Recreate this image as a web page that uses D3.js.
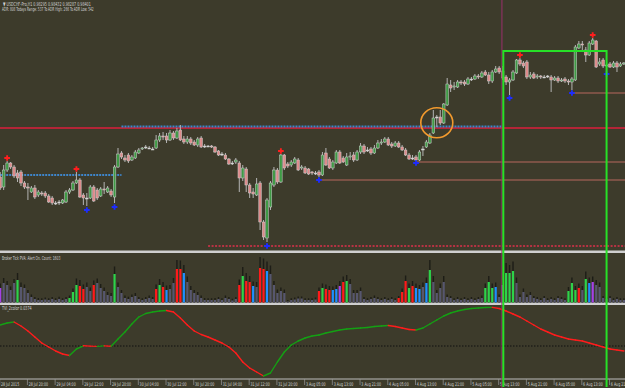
<!DOCTYPE html>
<html lang="en">
<head>
  <meta charset="UTF-8">
  <title>USDCHF-Pro,H1</title>
  <style type="text/css" media="all">
    body { margin: 0; background: #3d3b2b; overflow: hidden; }
    svg { display: block; }
    text { font-family: "DejaVu Sans", sans-serif; fill: #d2d2d2; }
  </style>
</head>
<body>
  <div id="chart"></div>
  <script src="https://d3js.org/d3.v7.min.js" charset="utf-8"></script>
  <script>
    // H1 bars from 28 Jul 2015 12:00 to 6 Aug 2015
    var opens = [
      0.9723,0.9713,0.9730,0.9737,0.9733,0.9727,0.9728,0.9717,0.9713,0.9708,
      0.9712,0.9705,0.9707,0.9707,0.9704,0.9702,0.9697,0.9698,0.9697,0.9698,
      0.9708,0.9710,0.9717,0.9720,0.9705,0.9702,0.9702,0.9713,0.9710,0.9704,
      0.9711,0.9708,0.9709,0.9703,0.9733,0.9747,0.9742,0.9745,0.9740,0.9742,
      0.9747,0.9751,0.9753,0.9752,0.9751,0.9752,0.9760,0.9764,0.9764,0.9760,
      0.9767,0.9762,0.9770,0.9761,0.9758,0.9761,0.9758,0.9755,0.9762,0.9754,
      0.9754,0.9754,0.9753,0.9749,0.9746,0.9745,0.9741,0.9737,0.9738,0.9737,
      0.9722,0.9731,0.9715,0.9708,0.9705,0.9717,0.9678,0.9662,0.9693,0.9715,
      0.9730,0.9718,0.9745,0.9736,0.9735,0.9737,0.9740,0.9732,0.9732,0.9731,
      0.9728,0.9727,0.9728,0.9725,0.9747,0.9741,0.9732,0.9737,0.9748,0.9742,
      0.9735,0.9743,0.9745,0.9740,0.9748,0.9754,0.9750,0.9751,0.9747,0.9752,
      0.9757,0.9758,0.9761,0.9756,0.9754,0.9757,0.9753,0.9750,0.9745,0.9742,
      0.9743,0.9740,0.9751,0.9753,0.9757,0.9767,0.9783,0.9783,0.9777,0.9795,
      0.9815,0.9813,0.9813,0.9818,0.9818,0.9816,0.9821,0.9821,0.9824,0.9823,
      0.9828,0.9825,0.9819,0.9828,0.9832,0.9829,0.9823,0.9818,0.9820,0.9827,
      0.9840,0.9837,0.9838,0.9823,0.9826,0.9823,0.9824,0.9823,0.9824,0.9823,
      0.9820,0.9822,0.9819,0.9821,0.9819,0.9818,0.9820,0.9852,0.9856,0.9850,
      0.9845,0.9856,0.9859,0.9836,0.9840,0.9834,0.9836,0.9833,0.9837,0.9834,0.9836
    ];
    var highs = [
      0.9728,0.9735,0.9739,0.9738,0.9735,0.9730,0.9730,0.9719,0.9717,0.9714,
      0.9715,0.9710,0.9709,0.9709,0.9706,0.9704,0.9699,0.9700,0.9701,0.9710,
      0.9712,0.9719,0.9728,0.9722,0.9707,0.9707,0.9715,0.9715,0.9712,0.9713,
      0.9718,0.9714,0.9711,0.9735,0.9752,0.9749,0.9745,0.9747,0.9745,0.9750,
      0.9752,0.9753,0.9755,0.9754,0.9753,0.9765,0.9767,0.9768,0.9767,0.9770,
      0.9769,0.9772,0.9775,0.9764,0.9764,0.9763,0.9760,0.9763,0.9764,0.9756,
      0.9755,0.9755,0.9754,0.9750,0.9748,0.9747,0.9742,0.9739,0.9742,0.9739,
      0.9735,0.9733,0.9717,0.9712,0.9722,0.9719,0.9680,0.9702,0.9719,0.9733,
      0.9732,0.9746,0.9746,0.9738,0.9740,0.9743,0.9742,0.9735,0.9734,0.9732,
      0.9729,0.9729,0.9730,0.9748,0.9752,0.9743,0.9740,0.9750,0.9750,0.9744,
      0.9747,0.9748,0.9748,0.9750,0.9757,0.9756,0.9753,0.9753,0.9755,0.9760,
      0.9761,0.9763,0.9763,0.9758,0.9759,0.9759,0.9755,0.9752,0.9747,0.9745,
      0.9745,0.9750,0.9754,0.9760,0.9767,0.9790,0.9785,0.9790,0.9797,0.9822,
      0.9820,0.9818,0.9820,0.9820,0.9820,0.9823,0.9823,0.9826,0.9826,0.9829,
      0.9830,0.9828,0.9830,0.9834,0.9834,0.9834,0.9825,0.9822,0.9830,0.9841,
      0.9842,0.9839,0.9840,0.9828,0.9828,0.9826,0.9825,0.9825,0.9825,0.9825,
      0.9824,0.9824,0.9822,0.9823,0.9821,0.9823,0.9855,0.9859,0.9859,0.9853,
      0.9859,0.9862,0.9860,0.9842,0.9842,0.9838,0.9838,0.9839,0.9839,0.9838,0.9838
    ];
    var lows = [
      0.9710,0.9710,0.9728,0.9731,0.9722,0.9718,0.9714,0.9711,0.9700,0.9707,
      0.9701,0.9703,0.9704,0.9702,0.9697,0.9695,0.9695,0.9695,0.9696,0.9697,
      0.9706,0.9709,0.9716,0.9702,0.9695,0.9694,0.9701,0.9698,0.9700,0.9703,
      0.9706,0.9707,0.9703,0.9697,0.9732,0.9741,0.9738,0.9737,0.9739,0.9741,
      0.9746,0.9750,0.9751,0.9751,0.9750,0.9751,0.9758,0.9760,0.9757,0.9759,
      0.9760,0.9761,0.9759,0.9756,0.9756,0.9755,0.9754,0.9753,0.9752,0.9752,
      0.9753,0.9752,0.9747,0.9744,0.9744,0.9740,0.9735,0.9735,0.9736,0.9708,
      0.9719,0.9708,0.9702,0.9702,0.9704,0.9670,0.9660,0.9658,0.9690,0.9713,
      0.9716,0.9717,0.9730,0.9732,0.9733,0.9736,0.9729,0.9730,0.9726,0.9725,
      0.9725,0.9725,0.9723,0.9724,0.9734,0.9731,0.9730,0.9736,0.9736,0.9737,
      0.9734,0.9740,0.9738,0.9739,0.9746,0.9746,0.9748,0.9745,0.9746,0.9751,
      0.9755,0.9757,0.9754,0.9752,0.9753,0.9752,0.9749,0.9744,0.9740,0.9740,
      0.9739,0.9739,0.9744,0.9752,0.9756,0.9766,0.9773,0.9775,0.9776,0.9794,
      0.9808,0.9810,0.9812,0.9815,0.9814,0.9815,0.9819,0.9820,0.9821,0.9822,
      0.9824,0.9816,0.9817,0.9827,0.9826,0.9820,0.9815,0.9805,0.9819,0.9826,
      0.9834,0.9832,0.9821,0.9821,0.9821,0.9821,0.9821,0.9822,0.9822,0.9808,
      0.9819,0.9817,0.9818,0.9817,0.9815,0.9810,0.9819,0.9851,0.9850,0.9838,
      0.9844,0.9855,0.9832,0.9834,0.9832,0.9829,0.9832,0.9832,0.9828,0.9833,0.9835
    ];
    var closes = [
      0.9712,0.9730,0.9737,0.9733,0.9724,0.9722,0.9717,0.9713,0.9712,0.9712,
      0.9703,0.9708,0.9706,0.9704,0.9698,0.9697,0.9697,0.9698,0.9700,0.9708,
      0.9710,0.9717,0.9720,0.9703,0.9702,0.9702,0.9713,0.9699,0.9702,0.9711,
      0.9710,0.9712,0.9705,0.9733,0.9746,0.9743,0.9740,0.9739,0.9743,0.9748,
      0.9750,0.9752,0.9753,0.9752,0.9751,0.9760,0.9764,0.9763,0.9760,0.9767,
      0.9762,0.9769,0.9760,0.9758,0.9761,0.9757,0.9755,0.9761,0.9753,0.9754,
      0.9754,0.9753,0.9748,0.9745,0.9746,0.9741,0.9736,0.9737,0.9740,0.9722,
      0.9732,0.9715,0.9707,0.9706,0.9716,0.9678,0.9663,0.9700,0.9717,0.9730,
      0.9718,0.9745,0.9732,0.9734,0.9738,0.9741,0.9730,0.9733,0.9727,0.9726,
      0.9727,0.9727,0.9725,0.9745,0.9735,0.9732,0.9738,0.9748,0.9737,0.9738,
      0.9743,0.9744,0.9740,0.9748,0.9754,0.9748,0.9750,0.9747,0.9752,0.9757,
      0.9758,0.9761,0.9755,0.9754,0.9757,0.9753,0.9750,0.9745,0.9741,0.9742,
      0.9740,0.9748,0.9751,0.9758,0.9765,0.9782,0.9783,0.9777,0.9796,0.9816,
      0.9812,0.9814,0.9818,0.9817,0.9816,0.9821,0.9821,0.9824,0.9823,0.9827,
      0.9825,0.9819,0.9828,0.9831,0.9828,0.9822,0.9818,0.9820,0.9828,0.9840,
      0.9836,0.9834,0.9823,0.9825,0.9822,0.9824,0.9823,0.9823,0.9824,0.9820,
      0.9822,0.9819,0.9820,0.9819,0.9818,0.9821,0.9853,0.9856,0.9855,0.9845,
      0.9857,0.9860,0.9833,0.9838,0.9834,0.9835,0.9833,0.9837,0.9833,0.9836,0.9837
    ];

    // Broker Tick PVA histogram (colored part and dark upper part)
    var tickVolume = [
      580,780,700,500,780,900,620,580,380,220,
      140,100,100,120,100,140,100,140,100,140,
      180,420,700,660,540,620,460,700,780,580,
      460,300,260,1140,620,380,180,140,220,260,
      140,100,140,180,140,540,700,620,500,540,
      780,1340,1340,1180,820,500,380,300,180,100,
      100,100,100,140,100,180,140,80,140,700,
      1060,860,820,660,620,1380,1340,1260,1140,700,
      380,460,380,40,100,120,160,160,100,100,
      100,120,460,580,540,500,500,540,660,820,
      860,740,380,380,460,140,100,140,180,140,
      100,140,100,140,100,180,420,860,580,660,
      580,540,620,780,1300,820,380,580,820,220,
      180,100,140,100,140,100,140,100,140,180,
      580,820,580,620,220,700,1180,1180,1260,780,
      220,420,220,300,180,140,100,180,100,140,
      100,180,140,100,460,780,500,580,500,940,
      780,820,700,620,180,140,180,100,140,100,100
    ];
    var tickVolumeTop = [
      760,980,860,640,940,1180,800,720,500,320,
      220,180,170,200,170,220,170,230,170,220,
      280,560,960,900,720,800,600,880,960,740,
      600,420,380,1440,800,500,280,230,320,380,
      220,170,220,280,220,720,940,820,680,700,
      980,1700,1680,1500,1040,660,500,420,280,180,
      170,170,180,220,170,280,220,150,220,920,
      1420,1180,1060,840,820,1820,1760,1640,1480,860,
      520,600,520,100,170,200,240,240,170,170,
      170,200,600,760,720,660,640,700,860,1040,
      1100,940,500,500,600,220,170,220,280,220,
      170,220,170,220,170,260,560,1080,760,860,
      760,700,800,1000,1700,1060,500,760,1060,320,
      260,170,220,170,220,170,220,170,220,280,
      760,1060,760,800,320,900,1580,1500,1640,1000,
      320,560,320,420,260,220,170,260,170,220,
      170,260,220,170,620,1000,660,760,660,1240,
      1000,1040,900,800,260,220,260,170,220,170,170
    ];
    // n normal, g green, r red, b blue, p purple
    var volumeKinds = ("pnnnng" + "nnnnnnnnnnnnnn" + "gggrrnnr" + "nnnnn" + "g" +
      "nnnnnnnnnnn" + "rgrbnnrrb" + "nnnnnnnnnnnnnnn" + "rgrrbnrrb" +
      "nnnnnnnnnnnnnn" + "rgrrbbprg" + "nnnnnnnnnnnnnn" + "rrrgrbbnbg" +
      "nnnnnnnnnnnnnnn" + "gggbnpggg" + "nnnnnnnnnnnnnnn" + "gggrngbp" +
      "nnnnnnnnn").split("");

    // TVI_2color, one value every second bar
    var tviValues = [
      0.0210,0.0230,0.0240,0.0200,0.0150,0.0090,0.0030,-0.0010,-0.0050,-0.0080,
      -0.0095,-0.0030,0.0002,-0.0001,-0.0004,0.0001,-0.0002,0.0070,0.0140,0.0220,
      0.0290,0.0325,0.0340,0.0350,0.0355,0.0340,0.0280,0.0210,0.0150,0.0115,
      0.0090,0.0060,0.0030,-0.0010,-0.0070,-0.0160,-0.0220,-0.0260,-0.0300,-0.0270,
      -0.0160,-0.0060,0.0010,0.0050,0.0080,0.0100,0.0110,0.0130,0.0145,0.0160,
      0.0170,0.0175,0.0180,0.0185,0.0195,0.0200,0.0205,0.0195,0.0180,0.0165,
      0.0160,0.0180,0.0220,0.0260,0.0300,0.0330,0.0350,0.0365,0.0375,0.0380,
      0.0385,0.0386,0.0375,0.0350,0.0320,0.0290,0.0250,0.0210,0.0170,0.0140,
      0.0110,0.0090,0.0070,0.0060,0.0050,0.0030,0.0010,-0.0010,-0.0030,-0.0040,-0.0050
    ];

    var timeLabels = [
      "28 Jul 2015", "28 Jul 20:00", "29 Jul 04:00", "29 Jul 12:00", "29 Jul 20:00",
      "30 Jul 04:00", "30 Jul 12:00", "30 Jul 20:00", "31 Jul 04:00", "31 Jul 12:00",
      "31 Jul 20:00", "3 Aug 05:00", "3 Aug 13:00", "3 Aug 21:00", "4 Aug 05:00",
      "4 Aug 13:00", "4 Aug 21:00", "5 Aug 05:00", "5 Aug 13:00", "5 Aug 21:00",
      "6 Aug 05:00", "6 Aug 13:00", "6 Aug 21:00"
    ];

    var swingHighs = [
      {bar: 2, price: 0.9742}, {bar: 22, price: 0.9731}, {bar: 81, price: 0.9749},
      {bar: 150, price: 0.9845}, {bar: 171, price: 0.9865}
    ];
    var swingLows = [
      {bar: 25, price: 0.9690}, {bar: 33, price: 0.9693}, {bar: 77, price: 0.9654},
      {bar: 92, price: 0.9720}, {bar: 120, price: 0.9737}, {bar: 147, price: 0.9802},
      {bar: 165, price: 0.9807}, {bar: 175, price: 0.9826}
    ];
    var resistance = 0.9772;
    var blueLevels = [
      {from: 0, to: 35, price: 0.9725}, {from: 35, to: 145, price: 0.97735}
    ];
    var lowLevel = {from: 60, price: 0.9654};
    var supportRays = [
      {from: 92, price: 0.9720}, {from: 120, price: 0.9738}, {from: 165, price: 0.9807}
    ];
    var boxBars = [145.2, 175];
    var boxTop = 0.9849;
    var markerBar = 144.8;
    var circleAt = {bar: 126, price: 0.97773};

    var W = 625, H = 388;
    var mainTop = 0, mainBottom = 250;
    var volTop = 257.5, volBase = 302.5;
    var tviTop = 305, tviBottom = 378;
    var axisY = 379;

    var svg = d3.select("#chart").append("svg")
      .attr("width", W).attr("height", H);

    svg.append("rect").attr("width", W).attr("height", H).attr("fill", "#3d3b2b");

    var last = closes.length - 1;
    var x = d3.scaleLinear().domain([0, last]).range([0.2, 0.2 + 3.465 * last]);
    var y = d3.scaleLinear().domain([0.9650, 0.9900]).range([mainBottom, mainTop]);
    var yVol = d3.scaleLinear().domain([0, 1800]).range([volBase, volTop]);
    var yTvi = d3.scaleLinear().domain([-0.032, 0.041]).range([tviBottom, tviTop]);

    // ---- main window objects
    var main = svg.append("g");

    main.append("line")
      .attr("x1", 0).attr("x2", W)
      .attr("y1", y(resistance)).attr("y2", y(resistance))
      .attr("stroke", "#dc1f3c").attr("stroke-width", 1.6);

    main.selectAll("line.blue").data(blueLevels).enter().append("line")
      .attr("x1", d => x(d.from)).attr("x2", d => x(d.to))
      .attr("y1", d => y(d.price)).attr("y2", d => y(d.price))
      .attr("stroke", "#3e86cc").attr("stroke-width", 2)
      .attr("stroke-dasharray", "2,1");

    main.append("line")
      .attr("x1", x(lowLevel.from)).attr("x2", W)
      .attr("y1", y(lowLevel.price)).attr("y2", y(lowLevel.price))
      .attr("stroke", "#e0304c").attr("stroke-width", 1.6)
      .attr("stroke-dasharray", "2,1.5");

    main.selectAll("line.ray").data(supportRays).enter().append("line")
      .attr("x1", d => x(d.from)).attr("x2", W)
      .attr("y1", d => y(d.price)).attr("y2", d => y(d.price))
      .attr("stroke", "#b8685e").attr("stroke-width", 1);

    // candles
    var bars = closes.map(function (c, i) {
      return {i: i, o: opens[i], h: highs[i], l: lows[i], c: c};
    });
    var candle = main.selectAll("g.candle").data(bars).enter().append("g");
    candle.append("line")
      .attr("x1", d => x(d.i)).attr("x2", d => x(d.i))
      .attr("y1", d => y(d.h)).attr("y2", d => y(d.l))
      .attr("stroke", "#b4b4b4").attr("stroke-width", 1);
    candle.append("rect")
      .attr("x", d => x(d.i) - 1.3).attr("width", 2.6)
      .attr("y", d => y(Math.max(d.o, d.c)))
      .attr("height", d => Math.max(1, Math.abs(y(d.o) - y(d.c))))
      .attr("fill", d => d.c > d.o ? "#3f9a45" : d.c < d.o ? "#de8a8a" : "#d8d8d8")
      .attr("stroke", "#d0d0d0").attr("stroke-width", 0.5);

    var cross = d3.symbol().type(d3.symbolCross).size(18);
    main.selectAll("path.hi").data(swingHighs).enter().append("path")
      .attr("d", cross)
      .attr("transform", d => "translate(" + x(d.bar) + "," + y(d.price) + ")")
      .attr("fill", "#ff1e1e");
    main.selectAll("path.lo").data(swingLows).enter().append("path")
      .attr("d", cross)
      .attr("transform", d => "translate(" + x(d.bar) + "," + y(d.price) + ")")
      .attr("fill", "#1d2cff");

    main.append("ellipse")
      .attr("cx", x(circleAt.bar)).attr("cy", y(circleAt.price))
      .attr("rx", 16).attr("ry", 15)
      .attr("fill", "none").attr("stroke", "#f29a2e").attr("stroke-width", 1.6);

    main.append("text").attr("transform", "translate(3,5.5) scale(0.6,1)")
      .attr("font-size", 5.5)
      .text("\u25BC USDCHF-Pro,H1  0.98295 0.98432 0.98287 0.98401");
    main.append("text").attr("transform", "translate(2,11) scale(0.52,1)")
      .attr("font-size", 5.5)
      .text("ADR: 808   Todays Range: 537   To ADR High: 266   To ADR Low: 542");

    // ---- separators
    [251.5, 303.5].forEach(function (sy) {
      svg.append("rect").attr("x", 0).attr("y", sy - 1).attr("width", W).attr("height", 2.5)
        .attr("fill", "#cfcfcf");
    });
    svg.append("line").attr("x1", 0).attr("x2", W).attr("y1", axisY).attr("y2", axisY)
      .attr("stroke", "#bdbdbd").attr("stroke-width", 1);

    // ---- volume window
    var volColor = {n: "#57576e", g: "#2ed24a", r: "#ff1a1a", b: "#1e8fff", p: "#a442e6"};
    var vol = svg.append("g");
    vol.selectAll("rect.top").data(tickVolumeTop).enter().append("rect")
      .attr("x", (d, i) => x(i) - 0.7).attr("width", 1.4)
      .attr("y", d => yVol(d)).attr("height", d => volBase - yVol(d))
      .attr("fill", "#1d1d17");
    vol.selectAll("rect.bar").data(tickVolume).enter().append("rect")
      .attr("x", (d, i) => x(i) - 1.1).attr("width", 2.2)
      .attr("y", d => yVol(d)).attr("height", d => volBase - yVol(d))
      .attr("fill", (d, i) => volColor[volumeKinds[i] || "n"]);
    svg.append("text").attr("transform", "translate(2,259.5) scale(0.55,1)")
      .attr("font-size", 5.5)
      .text("Broker Tick PVA:   Alert On.   Count: 1603");

    // ---- TVI window
    svg.append("line").attr("x1", 0).attr("x2", W)
      .attr("y1", yTvi(0)).attr("y2", yTvi(0))
      .attr("stroke", "#111").attr("stroke-width", 1).attr("stroke-dasharray", "1.5,1.5");
    var segs = d3.pairs(tviValues.map((v, k) => ({bar: 2 * k, v: v})));
    svg.append("g").selectAll("line").data(segs).enter().append("line")
      .attr("x1", d => x(d[0].bar)).attr("x2", d => x(d[1].bar))
      .attr("y1", d => yTvi(d[0].v)).attr("y2", d => yTvi(d[1].v))
      .attr("stroke", d => d[1].v >= d[0].v ? "#14a014" : "#ff1c1c")
      .attr("stroke-width", 1.4).attr("stroke-linecap", "round");
    svg.append("text").attr("transform", "translate(2,309.5) scale(0.6,1)")
      .attr("font-size", 5.5)
      .text("TVI_2color 0.0374");

    // ---- time axis
    var ticks = svg.append("g").selectAll("g").data(timeLabels).enter().append("g")
      .attr("transform", (d, k) => "translate(" + x(8 * k) + ",0)");
    ticks.append("line").attr("x1", -0.5).attr("x2", -0.5).attr("y1", axisY).attr("y2", axisY + 6)
      .attr("stroke", "#9a9a9a").attr("stroke-width", 0.7);
    ticks.append("text").attr("transform", "translate(0.8,386) scale(0.62,1)")
      .attr("font-size", 5.2)
      .text(d => d);

    // ---- hand drawn marks
    svg.append("line").attr("x1", x(markerBar)).attr("x2", x(markerBar))
      .attr("y1", 0).attr("y2", H)
      .attr("stroke", "#9a2d6c").attr("stroke-width", 1);
    svg.append("path")
      .attr("d", "M" + x(boxBars[0]) + "," + 387 + "V" + y(boxTop) +
        "H" + x(boxBars[1]) + "V" + 387)
      .attr("fill", "none").attr("stroke", "#27e027").attr("stroke-width", 2);
  </script>
</body>
</html>
